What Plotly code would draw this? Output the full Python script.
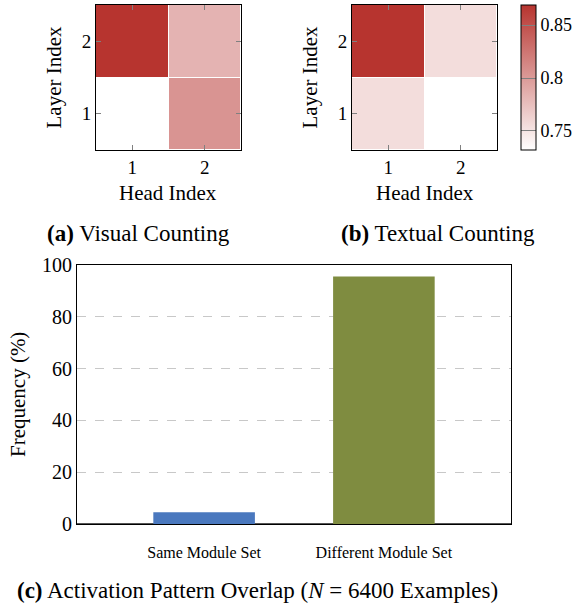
import plotly.graph_objects as go

W, H = 586, 603

head_labels = ["1", "2"]
layer_labels = ["1", "2"]
# rows: layer 1, layer 2 ; cols: head 1, head 2
visual_vals = [[0.732, 0.804],
               [0.869, 0.783]]
textual_vals = [[0.755, 0.732],
                [0.869, 0.755]]
cbar_ticks = [0.75, 0.8, 0.85]
cbar_ticktext = ["0.75", "0.8", "0.85"]

bar_categories = ["Same Module Set", "Different Module Set"]
bar_values = [4.5, 95.6]
bar_colors = ["#4A78BE", "#7F8C40"]

FONT = "Liberation Serif"
RED = "rgb(183,52,47)"
cscale = [[0, "white"], [1, RED]]
ZMIN, ZMAX = 0.732, 0.869


def px(x):
    return x / W


def py(y):
    return 1 - y / H


fig = go.Figure()

fig.add_trace(go.Heatmap(z=visual_vals, x=[1, 2], y=[1, 2], colorscale=cscale,
                         zmin=ZMIN, zmax=ZMAX, showscale=False, xgap=1, ygap=1,
                         xaxis="x", yaxis="y"))
fig.add_trace(go.Heatmap(z=textual_vals, x=[1, 2], y=[1, 2], colorscale=cscale,
                         zmin=ZMIN, zmax=ZMAX, xgap=1, ygap=1,
                         xaxis="x2", yaxis="y2",
                         colorbar=dict(x=px(521), xanchor="left", y=py(77.5), yanchor="middle",
                                       len=145, lenmode="pixels", thickness=15,
                                       thicknessmode="pixels", outlinewidth=1, outlinecolor="black",
                                       tickvals=cbar_ticks, ticktext=cbar_ticktext,
                                       ticks="inside", ticklen=15, tickcolor="#808080",
                                       tickfont=dict(family=FONT, size=18, color="black"),
                                       ypad=0, xpad=0)))

fig.add_trace(go.Bar(x=bar_categories, y=bar_values, marker=dict(color=bar_colors, line=dict(width=0)),
                     width=0.565, xaxis="x3", yaxis="y3", showlegend=False))

hm_axis = dict(ticks="inside", ticklen=5, tickcolor="#808080", mirror="allticks",
               showline=True, linecolor="black", linewidth=1, showgrid=False, zeroline=False,
               tickvals=[1, 2], ticktext=head_labels, range=[0.5, 2.5],
               tickfont=dict(family=FONT, size=19, color="black"))

fig.update_layout(
    width=W, height=H, margin=dict(l=0, r=0, t=0, b=0, autoexpand=False),
    paper_bgcolor="white", plot_bgcolor="white",
    font=dict(family=FONT, color="black"),
    showlegend=False,
    xaxis=dict(hm_axis, domain=[px(96), px(241)], anchor="y"),
    yaxis=dict(hm_axis, domain=[py(150), py(5)], anchor="x", ticktext=layer_labels),
    xaxis2=dict(hm_axis, domain=[px(352), px(497)], anchor="y2"),
    yaxis2=dict(hm_axis, domain=[py(150), py(5)], anchor="x2", ticktext=layer_labels),
    xaxis3=dict(domain=[px(77), px(511)], anchor="y3", range=[-0.707, 1.707],
                showline=True, linecolor="black", linewidth=1, mirror=True,
                ticks="", showgrid=False, ticklabelstandoff=14,
                tickfont=dict(family=FONT, size=16, color="black")),
    yaxis3=dict(domain=[py(524), py(265)], anchor="x3", range=[0, 100],
                tickvals=[0, 20, 40, 60, 80, 100],
                showline=True, linecolor="black", linewidth=1, mirror=True,
                ticks="", showgrid=True, gridcolor="#c8c8c8", griddash="dash", gridwidth=1,
                zeroline=True, zerolinecolor="#555555", zerolinewidth=2,
                tickfont=dict(family=FONT, size=20, color="black")),
)

ann = []


def add_text(text, x, y, size, angle=0):
    ann.append(dict(text=text, x=px(x), y=py(y), xref="paper", yref="paper",
                    xanchor="center", yanchor="middle", showarrow=False, textangle=angle,
                    font=dict(family=FONT, size=size, color="black")))


add_text("Layer Index", 53, 77.5, 21, -90)
add_text("Head Index", 167.5, 193, 21)
add_text("Layer Index", 309, 77.5, 21, -90)
add_text("Head Index", 425, 193, 21)
add_text("<b>(a)</b> Visual Counting", 138, 233, 23)
add_text("<b>(b)</b> Textual Counting", 438, 233, 23)
add_text("Frequency (%)", 18, 395, 21, -90)
add_text("<b>(c)</b> Activation Pattern Overlap (<i>N</i> = 6400 Examples)", 257, 590, 23)

fig.update_layout(annotations=ann)

fig.write_html("out.html", config={"displayModeBar": False},
               post_script="document.body.style.margin='0';document.body.style.overflow='hidden';")
